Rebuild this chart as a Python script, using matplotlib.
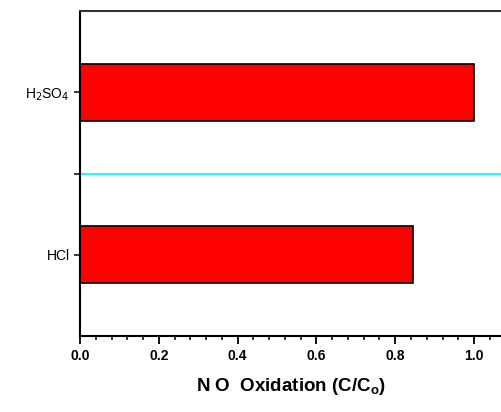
import matplotlib.pyplot as plt
from matplotlib.ticker import MultipleLocator

# data
acids = ["HCl", "H$_2$SO$_4$"]
oxidation = [0.845, 1.0]
positions = [0, 2]
divider = 1  # cyan separator between the two acids

plt.rcParams["font.family"] = ["Liberation Sans", "DejaVu Sans"]

fig = plt.figure(figsize=(5.02, 4.12), dpi=100)
ax = fig.add_axes([80 / 502, 1 - 336 / 412, 1 - 80 / 502, 325 / 412])

ax.barh(positions, oxidation, height=0.7, color="red", edgecolor="black", linewidth=1.2)
ax.axhline(divider, color="cyan", linewidth=1.3)

ax.set_xlim(0, 1.071)
ax.set_ylim(-1, 3)
ax.set_yticks([0, 1, 2])
ax.set_yticklabels(["HCl", "", "H$_2$SO$_4$"], fontsize=10)
ax.xaxis.set_major_locator(MultipleLocator(0.2))
ax.xaxis.set_minor_locator(MultipleLocator(0.04))
ax.tick_params(axis="x", which="major", length=6, width=1.3, labelsize=10)
ax.tick_params(axis="x", which="minor", length=3, width=1.1)
ax.tick_params(axis="y", length=4, width=1.1)
for lab in ax.get_xticklabels():
    lab.set_fontweight("bold")

for side in ["left", "bottom", "top"]:
    ax.spines[side].set_linewidth(1.5)
ax.spines["top"].set_color("#333333")
ax.spines["right"].set_visible(False)

ax.set_xlabel("N O  Oxidation (C/C$_\\mathregular{o}$)", fontsize=13.5, fontweight="bold", labelpad=9)

fig.savefig("out.png", dpi=100)
